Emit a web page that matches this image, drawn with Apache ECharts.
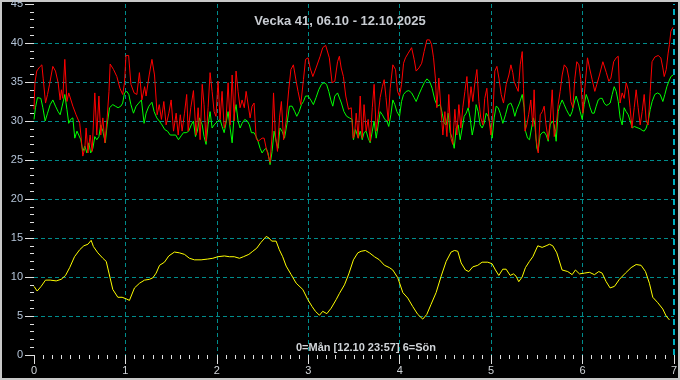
<!DOCTYPE html>
<html><head><meta charset="utf-8">
<script src="https://cdn.jsdelivr.net/npm/echarts@6/dist/echarts.min.js"></script>
<style>html,body{margin:0;padding:0;background:#000}#c{width:680px;height:380px}</style>
</head><body><div id="c"></div>
<script>
const titleText = 'Vecka 41, 06.10 - 12.10.2025';
const footText = '0=Mån [12.10 23:57] 6=Sön';
const yName = '°C';
const xTicks = [0,1,2,3,4,5,6,7];
const yTicks = [0,5,10,15,20,25,30,35,40,45];

const red = [[0.00,31.5],[0.01,34.9],[0.03,36.4],[0.06,36.9],[0.086,37.2],[0.10,35.5],[0.126,32.3],[0.148,33.4],[0.17,34.7],[0.206,37.0],[0.235,36.4],[0.264,34.9],[0.286,32.7],[0.30,34.0],[0.315,32.9],[0.337,37.9],[0.36,32.5],[0.38,33.6],[0.425,31.9],[0.46,30.8],[0.50,29.7],[0.516,27.8],[0.534,25.5],[0.556,26.5],[0.57,29.1],[0.59,25.9],[0.614,28.2],[0.636,26.1],[0.665,33.6],[0.687,28.2],[0.71,33.2],[0.73,28.2],[0.753,30.4],[0.775,27.2],[0.80,30.4],[0.82,33.8],[0.833,37.3],[0.87,36.6],[0.906,35.7],[0.94,34.2],[0.97,33.4],[0.99,34.9],[1.006,38.4],[1.035,38.4],[1.06,34.7],[1.095,33.6],[1.125,33.4],[1.153,36.2],[1.18,32.7],[1.21,34.4],[1.226,33.2],[1.26,35.9],[1.29,37.9],[1.318,35.9],[1.347,30.8],[1.37,32.1],[1.394,30.2],[1.42,32.5],[1.445,29.5],[1.475,31.0],[1.50,32.7],[1.526,28.7],[1.555,31.0],[1.577,28.2],[1.60,30.8],[1.62,28.7],[1.646,31.0],[1.67,33.4],[1.686,28.7],[1.715,31.7],[1.744,33.9],[1.773,28.2],[1.795,31.7],[1.817,27.6],[1.84,34.7],[1.86,32.1],[1.882,27.4],[1.904,31.7],[1.926,36.2],[1.948,33.8],[1.97,31.2],[1.99,30.6],[2.013,35.1],[2.035,30.2],[2.057,33.8],[2.08,29.1],[2.10,30.0],[2.123,34.9],[2.145,29.5],[2.167,35.9],[2.19,30.0],[2.21,36.4],[2.232,33.8],[2.254,31.7],[2.276,32.7],[2.30,31.7],[2.32,33.8],[2.34,34.0],[2.364,30.4],[2.385,31.9],[2.407,32.3],[2.43,27.8],[2.45,27.4],[2.473,27.6],[2.495,27.8],[2.517,27.8],[2.54,26.5],[2.56,26.3],[2.582,24.7],[2.604,28.2],[2.62,33.6],[2.64,28.2],[2.663,26.1],[2.685,30.4],[2.706,32.5],[2.73,27.6],[2.757,30.0],[2.786,34.0],[2.81,36.6],[2.837,37.2],[2.867,35.1],[2.888,33.8],[2.918,32.1],[2.947,35.3],[2.97,37.9],[2.998,38.1],[3.02,36.8],[3.05,35.7],[3.085,36.8],[3.13,38.3],[3.158,39.4],[3.19,39.7],[3.21,39.6],[3.23,38.1],[3.26,34.9],[3.29,35.1],[3.32,37.6],[3.34,38.3],[3.36,36.8],[3.384,35.7],[3.41,33.2],[3.44,31.5],[3.47,31.7],[3.49,27.8],[3.506,28.2],[3.524,31.0],[3.546,27.8],[3.568,33.2],[3.59,27.8],[3.61,32.1],[3.633,28.7],[3.655,30.2],[3.677,27.4],[3.70,31.7],[3.72,34.7],[3.743,28.7],[3.765,30.8],[3.786,33.0],[3.81,34.4],[3.83,35.3],[3.85,33.0],[3.874,30.0],[3.896,34.2],[3.925,37.2],[3.954,36.6],[3.976,33.8],[3.998,33.2],[4.02,34.7],[4.042,37.4],[4.063,38.1],[4.093,38.7],[4.13,39.4],[4.158,37.9],[4.18,36.4],[4.21,36.8],[4.24,37.4],[4.267,38.9],[4.297,40.4],[4.326,40.4],[4.348,39.8],[4.37,38.1],[4.39,35.5],[4.406,31.7],[4.428,35.5],[4.45,31.7],[4.472,28.2],[4.494,31.2],[4.516,28.0],[4.537,33.4],[4.56,27.8],[4.58,27.0],[4.603,31.5],[4.625,28.2],[4.647,32.1],[4.669,29.1],[4.69,31.7],[4.713,33.8],[4.735,35.7],[4.756,31.7],[4.78,34.4],[4.80,32.5],[4.822,34.9],[4.844,36.6],[4.866,32.5],[4.887,30.4],[4.91,29.5],[4.93,32.9],[4.953,34.2],[4.975,30.4],[4.997,28.2],[5.02,31.0],[5.04,36.4],[5.063,37.0],[5.085,35.5],[5.11,33.4],[5.135,32.3],[5.165,34.7],[5.194,35.9],[5.216,37.2],[5.237,36.2],[5.25,35.1],[5.274,34.4],[5.296,33.8],[5.318,37.2],[5.34,38.9],[5.354,34.2],[5.37,28.7],[5.39,29.5],[5.41,30.8],[5.434,32.7],[5.456,29.3],[5.47,34.0],[5.49,27.8],[5.515,25.9],[5.537,30.8],[5.56,31.2],[5.58,31.9],[5.60,29.5],[5.624,27.6],[5.646,30.0],[5.668,34.0],[5.69,28.0],[5.71,29.1],[5.733,32.1],[5.755,33.8],[5.777,35.9],[5.80,37.2],[5.828,36.8],[5.85,35.5],[5.872,32.5],[5.894,31.7],[5.916,35.5],[5.937,37.6],[5.96,37.2],[5.98,35.3],[6.003,31.0],[6.025,34.2],[6.054,38.1],[6.076,36.8],[6.105,35.3],[6.134,33.8],[6.156,34.7],[6.185,35.9],[6.222,37.6],[6.26,36.2],[6.287,35.1],[6.31,35.5],[6.34,37.6],[6.368,38.1],[6.39,38.3],[6.41,32.3],[6.433,33.6],[6.455,32.9],[6.477,34.9],[6.5,34.0],[6.52,31.7],[6.54,29.1],[6.565,31.7],[6.586,34.0],[6.608,31.7],[6.63,29.5],[6.652,31.2],[6.674,33.4],[6.696,30.0],[6.717,29.5],[6.74,33.8],[6.76,37.6],[6.79,38.2],[6.827,38.4],[6.856,38.1],[6.878,36.8],[6.893,35.7],[6.915,36.6],[6.936,38.7],[6.95,39.8],[6.966,41.5],[6.988,42.0]];

const green = [[0,30.2],[0.016,31.7],[0.038,33.0],[0.075,32.9],[0.097,31.7],[0.122,30.0],[0.148,31.0],[0.177,32.1],[0.206,32.7],[0.235,31.9],[0.264,31.2],[0.286,30.8],[0.308,31.9],[0.337,33.4],[0.36,31.5],[0.38,29.7],[0.40,30.2],[0.425,30.4],[0.446,27.8],[0.47,28.7],[0.49,28.9],[0.512,27.6],[0.534,26.1],[0.556,26.8],[0.578,25.9],[0.60,27.2],[0.62,25.9],[0.644,26.5],[0.665,28.0],[0.687,27.6],[0.71,28.0],[0.73,29.5],[0.753,28.7],[0.78,27.2],[0.80,29.5],[0.826,31.7],[0.862,32.1],[0.89,31.9],[0.92,31.7],[0.95,31.9],[0.97,32.3],[0.99,33.6],[1.015,33.8],[1.037,33.4],[1.06,32.1],[1.088,31.0],[1.117,31.9],[1.146,32.3],[1.175,32.7],[1.204,29.7],[1.226,31.0],[1.256,31.9],[1.29,32.4],[1.314,31.2],[1.343,30.4],[1.37,30.0],[1.40,29.5],[1.43,28.9],[1.46,28.7],[1.49,28.2],[1.52,28.2],[1.55,28.2],[1.58,27.6],[1.61,28.1],[1.635,28.5],[1.665,28.5],[1.693,28.7],[1.72,29.5],[1.744,30.0],[1.766,28.0],[1.787,28.7],[1.81,30.4],[1.84,29.5],[1.86,28.0],[1.882,27.0],[1.904,29.5],[1.926,31.2],[1.948,29.1],[1.97,29.5],[2.013,30.0],[2.035,30.2],[2.057,29.3],[2.08,28.5],[2.10,29.7],[2.123,31.2],[2.145,29.1],[2.167,27.2],[2.19,30.8],[2.21,32.1],[2.232,30.0],[2.254,29.1],[2.276,29.7],[2.305,30.2],[2.334,30.0],[2.356,29.5],[2.378,28.5],[2.407,28.5],[2.43,28.0],[2.45,27.4],[2.473,26.5],[2.495,25.9],[2.517,26.3],[2.54,26.5],[2.56,25.9],[2.582,24.4],[2.604,26.1],[2.626,28.7],[2.648,27.4],[2.67,26.5],[2.69,29.1],[2.713,28.7],[2.74,27.8],[2.765,29.5],[2.794,31.9],[2.823,31.9],[2.852,31.2],[2.874,30.6],[2.90,31.2],[2.925,32.1],[2.947,32.5],[2.97,33.2],[2.998,33.2],[3.027,32.7],[3.056,32.1],[3.085,33.0],[3.114,34.0],[3.144,34.7],[3.173,34.9],[3.20,34.7],[3.224,33.8],[3.246,32.7],[3.268,31.9],[3.29,33.2],[3.32,33.6],[3.34,33.8],[3.362,32.3],[3.39,31.2],[3.42,30.6],[3.45,30.4],[3.48,30.2],[3.494,27.6],[3.517,28.9],[3.546,27.8],[3.568,28.7],[3.59,27.6],[3.61,28.5],[3.633,28.7],[3.655,27.8],[3.677,27.2],[3.70,28.7],[3.72,30.0],[3.743,27.8],[3.765,29.5],[3.786,31.2],[3.81,30.8],[3.837,30.2],[3.86,30.0],[3.88,29.3],[3.903,30.8],[3.925,32.7],[3.947,32.1],[3.969,31.2],[3.998,30.6],[4.02,32.5],[4.042,33.4],[4.071,33.8],[4.10,33.9],[4.13,33.6],[4.158,33.0],[4.18,32.5],[4.21,33.4],[4.24,34.2],[4.268,34.9],[4.297,35.4],[4.326,35.1],[4.355,34.2],[4.384,32.7],[4.413,31.9],[4.443,32.1],[4.465,31.0],[4.486,29.7],[4.508,29.5],[4.53,31.0],[4.552,28.5],[4.574,27.8],[4.596,26.5],[4.618,29.1],[4.64,29.5],[4.661,27.6],[4.683,29.1],[4.705,30.6],[4.727,31.0],[4.749,31.7],[4.77,30.4],[4.793,28.2],[4.815,29.5],[4.836,32.1],[4.858,31.2],[4.88,29.5],[4.902,29.1],[4.924,29.7],[4.946,31.0],[4.968,30.6],[4.99,29.5],[5.011,27.8],[5.033,30.4],[5.055,31.9],[5.077,31.7],[5.099,31.0],[5.128,29.7],[5.157,30.8],[5.186,32.1],[5.215,32.3],[5.237,31.7],[5.259,30.6],[5.281,31.5],[5.31,32.3],[5.34,33.4],[5.361,31.7],[5.376,28.7],[5.398,27.8],[5.42,27.6],[5.442,29.1],[5.463,30.4],[5.478,29.5],[5.50,26.5],[5.514,26.1],[5.536,28.2],[5.558,28.5],[5.58,28.6],[5.602,28.2],[5.624,27.4],[5.646,29.5],[5.668,30.0],[5.69,29.5],[5.711,27.4],[5.733,31.2],[5.755,32.1],[5.777,32.7],[5.799,32.1],[5.821,31.5],[5.843,31.0],[5.864,30.6],[5.886,31.2],[5.908,32.3],[5.93,33.2],[5.952,32.3],[5.974,31.2],[5.996,30.2],[6.018,32.1],[6.04,33.4],[6.061,32.7],[6.083,31.7],[6.105,31.0],[6.127,31.0],[6.149,31.9],[6.171,32.7],[6.193,32.9],[6.215,32.9],[6.236,32.3],[6.258,32.0],[6.28,32.1],[6.302,32.3],[6.324,33.4],[6.346,34.4],[6.368,33.8],[6.39,32.5],[6.411,30.4],[6.433,29.5],[6.455,31.7],[6.477,31.2],[6.499,30.8],[6.521,30.0],[6.543,29.1],[6.565,29.3],[6.586,29.5],[6.608,29.1],[6.63,29.0],[6.652,28.8],[6.674,28.7],[6.696,29.1],[6.718,30.0],[6.74,31.5],[6.761,32.5],[6.79,33.4],[6.82,33.6],[6.849,33.4],[6.878,32.5],[6.9,33.4],[6.922,34.4],[6.944,35.1],[6.966,35.7],[6.99,35.9]];

const yellow = [[0,8.8],[0.035,8.2],[0.078,8.8],[0.126,9.6],[0.177,9.6],[0.243,9.5],[0.297,9.7],[0.345,10.2],[0.39,11.2],[0.443,12.6],[0.50,13.5],[0.545,14.0],[0.59,14.2],[0.625,14.7],[0.65,13.9],[0.698,13.1],[0.753,12.4],[0.79,12.0],[0.82,10.5],[0.862,8.4],[0.917,7.4],[0.964,7.4],[1.008,7.2],[1.044,7.0],[1.099,8.6],[1.154,9.2],[1.209,9.6],[1.263,9.7],[1.30,9.9],[1.336,10.5],[1.373,11.5],[1.427,11.9],[1.474,12.7],[1.536,13.2],[1.59,13.1],[1.646,12.9],[1.70,12.4],[1.755,12.2],[1.828,12.2],[1.90,12.3],[1.956,12.4],[2.01,12.6],[2.083,12.7],[2.137,12.6],[2.19,12.6],[2.247,12.4],[2.29,12.6],[2.35,12.9],[2.393,13.3],[2.437,13.7],[2.48,14.4],[2.54,15.2],[2.57,15.0],[2.6,14.6],[2.648,14.6],[2.683,13.5],[2.72,12.6],[2.758,11.4],[2.813,10.3],[2.868,9.2],[2.94,8.4],[2.995,7.1],[3.042,6.2],[3.078,5.6],[3.122,5.1],[3.158,5.6],[3.203,5.3],[3.25,6.0],[3.305,7.1],[3.341,7.9],[3.396,9.0],[3.443,10.4],[3.494,12.2],[3.542,13.1],[3.578,13.3],[3.625,13.4],[3.669,13.1],[3.724,12.6],[3.778,12.2],[3.833,11.5],[3.888,11.2],[3.924,10.9],[3.979,9.9],[4.034,8.0],[4.088,7.3],[4.143,6.2],[4.198,5.2],[4.252,4.6],[4.296,5.2],[4.343,6.5],[4.398,8.0],[4.453,10.1],[4.508,12.0],[4.562,13.2],[4.599,13.4],[4.635,13.3],[4.672,11.8],[4.719,10.9],[4.756,10.7],[4.799,11.3],[4.854,11.5],[4.901,11.9],[4.963,11.9],[5.01,11.7],[5.047,10.9],[5.084,10.2],[5.127,11.0],[5.164,11.0],[5.208,10.2],[5.244,10.4],[5.273,10.1],[5.302,9.4],[5.339,10.0],[5.375,11.2],[5.419,12.0],[5.456,12.6],[5.51,14.0],[5.558,13.8],[5.601,14.0],[5.638,14.2],[5.674,14.0],[5.718,13.1],[5.776,10.9],[5.838,10.7],[5.886,10.3],[5.922,10.9],[5.966,10.4],[6.021,10.5],[6.075,10.6],[6.13,10.3],[6.177,10.7],[6.214,10.5],[6.258,9.4],[6.301,8.6],[6.349,8.8],[6.403,9.7],[6.469,10.5],[6.531,11.2],[6.586,11.6],[6.64,11.5],[6.688,10.7],[6.731,9.2],[6.768,7.4],[6.823,6.7],[6.877,5.9],[6.914,5.0],[6.95,4.5]];

const labelColor = '#b4c4d8';
const tickColor = '#e0e0e0';
const gridColor = '#008c8c';

const chart = echarts.init(document.getElementById('c'), null, {renderer: 'canvas'});
chart.setOption({
  backgroundColor: '#000',
  animation: false,
  title: {
    text: titleText, left: 'center', top: 10,
    textStyle: {color: '#c8ccd2', fontSize: 13, fontWeight: 'bold', fontFamily: 'Liberation Sans'}
  },
  grid: {left: 34, right: 6, top: 4, bottom: 25, outerBoundsMode: 'none', containLabel: false},
  xAxis: {
    type: 'value', min: xTicks[0], max: xTicks[xTicks.length - 1], interval: 1,
    axisLine: {show: false},
    axisTick: {show: true, length: 9, lineStyle: {color: tickColor}},
    minorTick: {show: true, splitNumber: 10, length: 4, lineStyle: {color: tickColor}},
    axisLabel: {color: '#d0d4d8', fontSize: 11, margin: 10, fontFamily: 'Liberation Sans'},
    splitLine: {show: true, showMinLine: false, showMaxLine: false, lineStyle: {color: gridColor, type: [4, 3]}}
  },
  yAxis: {
    type: 'value', min: yTicks[0], max: yTicks[yTicks.length - 1], interval: 5,
    name: yName, nameLocation: 'middle', nameGap: 24, nameRotate: 90,
    nameTextStyle: {color: labelColor, fontSize: 12, fontWeight: 'bold', fontFamily: 'Liberation Sans'},
    axisLine: {show: false},
    axisTick: {show: true, length: 9, lineStyle: {color: tickColor}},
    minorTick: {show: true, splitNumber: 5, length: 4, lineStyle: {color: tickColor}},
    axisLabel: {color: labelColor, fontSize: 11, margin: 11, fontFamily: 'Liberation Sans'},
    splitLine: {show: true, showMinLine: false, showMaxLine: false, lineStyle: {color: gridColor, type: [4, 3]}}
  },
  graphic: [
    {type: 'text', left: 296, top: 342, silent: true,
     style: {text: footText, fill: '#d0d4d8', font: 'bold 11px "Liberation Sans"'}},
    {type: 'rect', silent: true, shape: {x: 1, y: 1, width: 678, height: 378},
     style: {fill: 'none', stroke: '#c8c8c8', lineWidth: 2}}
  ],
  series: [
    {type: 'line', data: yellow, showSymbol: false, lineStyle: {color: '#ffff00', width: 1}, itemStyle: {color: '#ffff00'}},
    {type: 'line', data: green, showSymbol: false, lineStyle: {color: '#00ff00', width: 1}, itemStyle: {color: '#00ff00'}},
    {type: 'line', data: red, showSymbol: false, lineStyle: {color: '#ff0000', width: 1}, itemStyle: {color: '#ff0000'},
     markLine: {silent: true, symbol: 'none', label: {show: false},
       lineStyle: {color: '#00e8ff', type: [6, 4], width: 1.5}, data: [{xAxis: 7}]}}
  ]
});
</script></body></html>
